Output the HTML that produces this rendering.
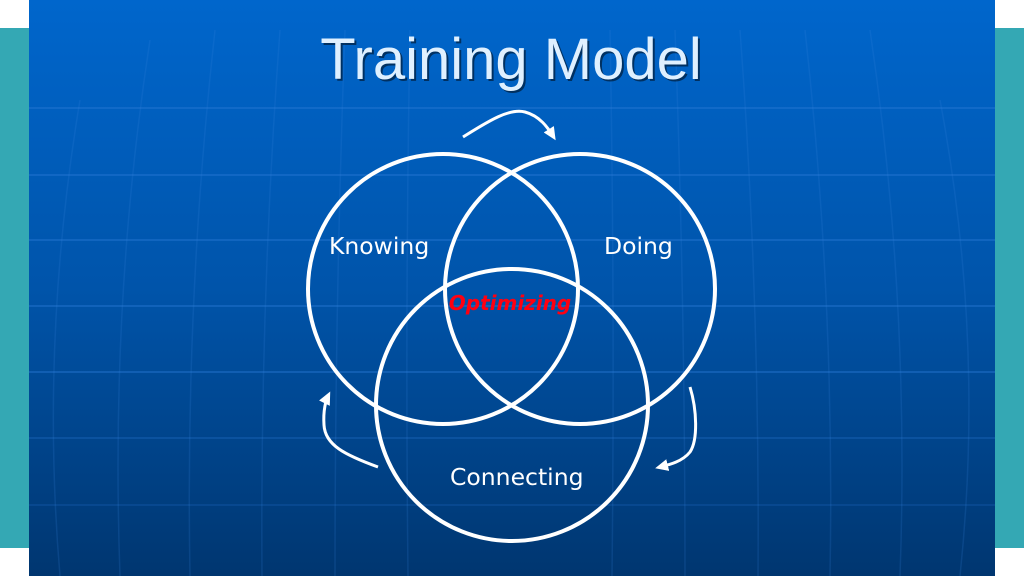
<!DOCTYPE html>
<html><head><style>
html,body{margin:0;padding:0;width:1024px;height:576px;overflow:hidden;background:#fff;}
</style></head><body>
<svg width="1024" height="576" viewBox="0 0 1024 576" xmlns="http://www.w3.org/2000/svg">
<defs>
<linearGradient id="bg" x1="0" y1="0" x2="0" y2="1">
<stop offset="0" stop-color="#0066cc"/>
<stop offset="0.5" stop-color="#0054aa"/>
<stop offset="1" stop-color="#003670"/>
</linearGradient>
<marker id="ah" markerWidth="14" markerHeight="12" refX="8" refY="6" orient="auto" markerUnits="userSpaceOnUse">
<path d="M0,0 L13,6 L0,12 Z" fill="#fff"/>
</marker>
</defs>
<rect x="0" y="28" width="29" height="520" fill="#34a8b4"/>
<rect x="995" y="28" width="29" height="520" fill="#34a8b4"/>
<rect x="29" y="0" width="966" height="576" fill="url(#bg)"/>
<g stroke="#2a7ad8" stroke-opacity="0.4" stroke-width="2" fill="none">
<line x1="29" y1="108" x2="995" y2="108"/>
<line x1="29" y1="175" x2="995" y2="175"/>
<line x1="29" y1="240" x2="995" y2="240"/>
<line x1="29" y1="306" x2="995" y2="306"/>
<line x1="29" y1="372" x2="995" y2="372"/>
<line x1="29" y1="438" x2="995" y2="438" stroke-opacity="0.25"/>
<line x1="29" y1="505" x2="995" y2="505" stroke-opacity="0.2"/>
</g>
<g stroke="#3a86dc" stroke-opacity="0.18" stroke-width="1.5" fill="none">
<path d="M80,100 Q40,340 60,576"/><path d="M150,40 Q110,300 120,576"/><path d="M215,30 Q185,300 190,576"/>
<path d="M280,30 Q260,300 262,576"/><path d="M345,30 Q335,300 335,576"/><path d="M410,30 Q405,300 408,576"/>
<path d="M610,30 Q615,300 612,576"/><path d="M675,30 Q685,300 685,576"/><path d="M740,30 Q760,300 758,576"/>
<path d="M805,30 Q835,300 830,576"/><path d="M870,30 Q910,300 900,576"/><path d="M940,100 Q985,340 960,576"/>
</g>
<text x="513" y="81" text-anchor="middle" font-family="Liberation Sans, sans-serif" font-size="58" fill="#000" fill-opacity="0.5">Training Model</text>
<text x="511" y="79" text-anchor="middle" font-family="Liberation Sans, sans-serif" font-size="58" fill="#dff0ff">Training Model</text>
<g fill="none" stroke="#fff" stroke-width="4">
<circle cx="443" cy="289" r="135"/>
<circle cx="580" cy="289" r="135"/>
<circle cx="512" cy="405" r="136"/>
</g>
<g fill="none" stroke="#fff" stroke-width="3">
<path d="M463,137 C490,120 510,108 525,112 C540,116 548,128 553,136" marker-end="url(#ah)"/>
<path d="M378,467 C345,455 325,445 324,425 C323,410 326,400 328,396" marker-end="url(#ah)"/>
<path d="M690,387 C697,410 698,440 690,452 C682,462 668,465 660,467" marker-end="url(#ah)"/>
</g>
<g font-family="DejaVu Sans, sans-serif" font-size="23.5" fill="#fff">
<text x="329" y="254">Knowing</text>
<text x="604" y="254">Doing</text>
<text x="450" y="485">Connecting</text>
</g>
<text x="510" y="310" text-anchor="middle" font-family="DejaVu Sans, sans-serif" font-style="italic" font-weight="bold" font-size="20" fill="#ff0010">Optimizing</text>
</svg>
</body></html>
